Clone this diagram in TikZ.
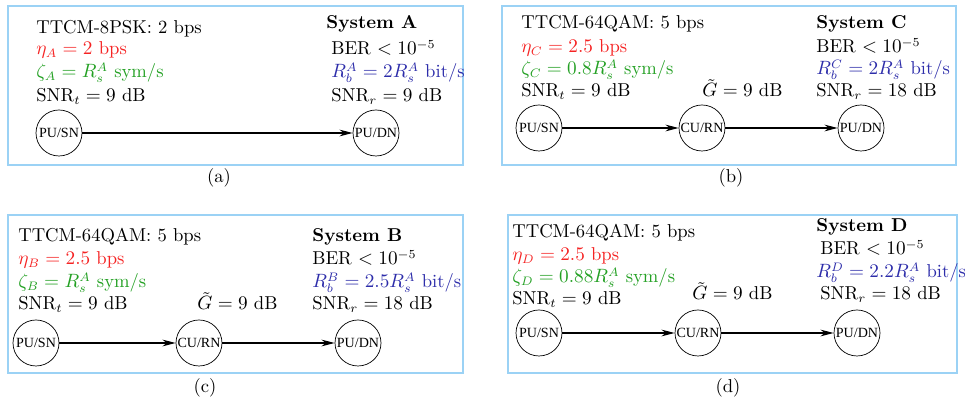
\documentclass[tikz,border=0pt]{standalone}
\usepackage{amsmath}
\usepackage{fontspec}
\newfontfamily\nodefont{Liberation Serif}
\usetikzlibrary{arrows.meta}
\definecolor{etared}{RGB}{245,35,35}
\definecolor{zetagreen}{RGB}{35,160,35}
\definecolor{rateblue}{RGB}{45,45,170}
\definecolor{framblue}{RGB}{155,210,245}
\tikzset{
  unit/.style={circle, draw, thin, minimum size=0.92cm, inner sep=0pt, font=\nodefont\fontsize{8}{9}\selectfont},
  txt/.style={anchor=base west, inner sep=0pt},
  frame/.style={draw=framblue, line width=0.8pt},
  link/.style={-{Stealth[length=7.5pt,width=3.8pt]}, semithick}
}
\begin{document}
\begin{tikzpicture}[font=\fontsize{10.6}{12.7}\selectfont]
\useasboundingbox (0, 0) rectangle (19.3, 8.06);
% (a)
\draw[frame] (0.16, 4.76) rectangle (9.26, 7.94);
\node (moda)[txt] at (0.72, 7.38) {TTCM-8PSK: 2 bps};
\node (etaa)[txt, text=etared] at (0.72, 6.96) {$\eta_A = 2$ bps};
\node (zetaa)[txt, text=zetagreen] at (0.72, 6.50) {$\zeta_A = R_s^A$ sym/s};
\node (snrta)[txt] at (0.72, 6.02) {SNR$_t = 9$ dB};
\node (sysa)[txt] at (6.52, 7.48) {\textbf{System A}};
\node (bera)[txt] at (6.62, 6.96) {BER $< 10^{-5}$};
\node (ratea)[txt, text=rateblue] at (6.62, 6.50) {$R_b^A = 2R_s^A$ bit/s};
\node (snrra)[txt] at (6.62, 6.02) {SNR$_r = 9$ dB};
\node (sna)[unit] at (1.18, 5.40) {PU/SN};
\node (dna)[unit] at (7.52, 5.40) {PU/DN};
\node (capa)[] at (4.38, 4.50) {(a)};
\draw[link] (sna) -- (dna);
% (b)
\draw[frame] (10.04, 4.76) rectangle (19.12, 7.94);
\node (modb)[txt] at (10.42, 7.48) {TTCM-64QAM: 5 bps};
\node (etab)[txt, text=etared] at (10.42, 7.00) {$\eta_C = 2.5$ bps};
\node (zetab)[txt, text=zetagreen] at (10.42, 6.56) {$\zeta_C = 0.8R_s^A$ sym/s};
\node (snrtb)[txt] at (10.42, 6.12) {SNR$_t = 9$ dB};
\node (gainb)[txt] at (14.04, 6.12) {$\tilde{G} = 9$ dB};
\node (sysb)[txt] at (16.32, 7.48) {\textbf{System C}};
\node (berb)[txt] at (16.32, 7.00) {BER $< 10^{-5}$};
\node (rateb)[txt, text=rateblue] at (16.32, 6.56) {$R_b^C = 2R_s^A$ bit/s};
\node (snrrb)[txt] at (16.32, 6.12) {SNR$_r = 18$ dB};
\node (snb)[unit] at (10.78, 5.50) {PU/SN};
\node (rnb)[unit] at (14.04, 5.50) {CU/RN};
\node (dnb)[unit] at (17.22, 5.50) {PU/DN};
\node (capb)[] at (14.62, 4.50) {(b)};
\draw[link] (snb) -- (rnb);
\draw[link] (rnb) -- (dnb);
% (c)
\draw[frame] (0.16, 0.60) rectangle (9.26, 3.76);
\node (modc)[txt] at (0.36, 3.22) {TTCM-64QAM: 5 bps};
\node (etac)[txt, text=etared] at (0.36, 2.76) {$\eta_B = 2.5$ bps};
\node (zetac)[txt, text=zetagreen] at (0.36, 2.30) {$\zeta_B = R_s^A$ sym/s};
\node (snrtc)[txt] at (0.36, 1.86) {SNR$_t = 9$ dB};
\node (gainc)[txt] at (3.94, 1.86) {$\tilde{G} = 9$ dB};
\node (sysc)[txt] at (6.24, 3.22) {\textbf{System B}};
\node (berc)[txt] at (6.24, 2.76) {BER $< 10^{-5}$};
\node (ratec)[txt, text=rateblue] at (6.24, 2.30) {$R_b^B = 2.5R_s^A$ bit/s};
\node (snrrc)[txt] at (6.24, 1.86) {SNR$_r = 18$ dB};
\node (snc)[unit] at (0.72, 1.20) {PU/SN};
\node (rnc)[unit] at (3.98, 1.20) {CU/RN};
\node (dnc)[unit] at (7.16, 1.20) {PU/DN};
\node (capc)[] at (4.10, 0.30) {(c)};
\draw[link] (snc) -- (rnc);
\draw[link] (rnc) -- (dnc);
% (d)
\draw[frame] (10.16, 0.60) rectangle (19.14, 3.76);
\node (modd)[txt] at (10.24, 3.30) {TTCM-64QAM: 5 bps};
\node (etad)[txt, text=etared] at (10.24, 2.84) {$\eta_D = 2.5$ bps};
\node (zetad)[txt, text=zetagreen] at (10.24, 2.40) {$\zeta_D = 0.88R_s^A$ sym/s};
\node (snrtd)[txt] at (10.24, 1.96) {SNR$_t = 9$ dB};
\node (gaind)[txt] at (13.84, 2.06) {$\tilde{G} = 9$ dB};
\node (sysd)[txt] at (16.32, 3.42) {\textbf{System D}};
\node (berd)[txt] at (16.40, 2.96) {BER $< 10^{-5}$};
\node (rated)[txt, text=rateblue] at (16.32, 2.50) {$R_b^D = 2.2R_s^A$ bit/s};
\node (snrrd)[txt] at (16.40, 2.06) {SNR$_r = 18$ dB};
\node (snd)[unit] at (10.78, 1.40) {PU/SN};
\node (rnd)[unit] at (13.96, 1.40) {CU/RN};
\node (dnd)[unit] at (17.14, 1.40) {PU/DN};
\node (capd)[] at (14.56, 0.30) {(d)};
\draw[link] (snd) -- (rnd);
\draw[link] (rnd) -- (dnd);
\end{tikzpicture}
\end{document}
